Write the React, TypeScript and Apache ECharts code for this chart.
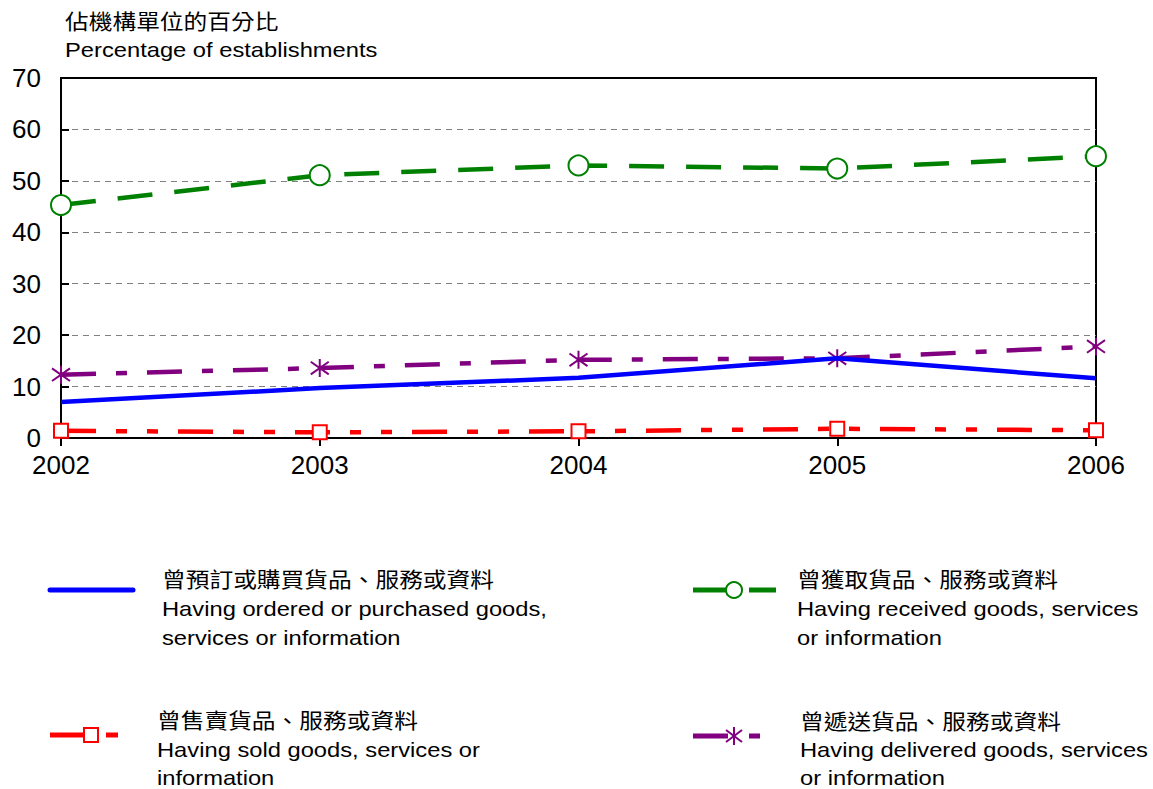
import React, { useEffect, useRef } from "react";
import * as echarts from "echarts";

const years = ["2002", "2003", "2004", "2005", "2006"];
const ordered = [7.0, 9.7, 11.7, 15.5, 11.6];
const received = [45.3, 51.1, 53.0, 52.4, 54.8];
const sold = [1.4, 1.1, 1.3, 1.8, 1.5];
const delivered = [12.3, 13.6, 15.2, 15.5, 17.8];
const yTicks = { min: 0, max: 70, interval: 10 };

const titleZh = "佔機構單位的百分比";
const titleEn = "Percentage of establishments";
const legendOrdered = ["曾預訂或購買貨品、服務或資料", "Having ordered or purchased goods,", "services or information"];
const legendReceived = ["曾獲取貨品、服務或資料", "Having received goods, services", "or information"];
const legendSold = ["曾售賣貨品、服務或資料", "Having sold goods, services or", "information"];
const legendDelivered = ["曾遞送貨品、服務或資料", "Having delivered goods, services", "or information"];

const FONT = '"Liberation Sans", Arial, "Noto Sans CJK TC", sans-serif';
const BLUE = "#0000FF";
const GREEN = "#008000";
const RED = "#FF0000";
const PURPLE = "#800080";
const STAR = "path://M10,0L10,20M1,3L19,17M1,17L19,3";

function textLines(lines: string[], x: number, y0: number, step: number) {
  return lines.map((t, i) => ({
    type: "text",
    x,
    y: y0 + i * step,
    scaleX: 1.13,
    style: { text: t, font: `21px ${FONT}`, fill: "#000", textVerticalAlign: "middle" },
  }));
}

export default function App() {
  const ref = useRef<HTMLDivElement>(null);
  useEffect(() => {
    const chart = echarts.init(ref.current!, null, { renderer: "svg" });
    const lineSeries = (name: string, data: number[], color: string, dash: any, symbol: string, size: number, z: number) => ({
      name,
      type: "line",
      data,
      symbol,
      symbolSize: size,
      showSymbol: symbol !== "none",
      z,
      lineStyle: { color, width: 4.5, type: dash, cap: "butt" },
      itemStyle: { color: symbol === STAR ? color : "#fff", borderColor: color, borderWidth: 2 },
    });
    chart.setOption({
      animation: false,
      grid: {
        left: 61,
        right: 57,
        top: 78,
        bottom: 351,
        show: true,
        borderColor: "#000",
        borderWidth: 2,
        backgroundColor: "transparent",
      },
      xAxis: {
        type: "category",
        data: years,
        boundaryGap: false,
        axisLine: { lineStyle: { color: "#000", width: 2 } },
        axisTick: { show: true, length: 8, alignWithLabel: true, lineStyle: { color: "#000", width: 2 } },
        axisLabel: { fontSize: 26, color: "#000", fontFamily: FONT, margin: 14 },
        splitLine: { show: false },
      },
      yAxis: {
        type: "value",
        min: yTicks.min,
        max: yTicks.max,
        interval: yTicks.interval,
        axisLine: { show: true, lineStyle: { color: "#000", width: 2 } },
        axisTick: { show: true, inside: true, length: 8, lineStyle: { color: "#000", width: 2 } },
        axisLabel: { fontSize: 26, color: "#000", fontFamily: FONT, margin: 20 },
        splitLine: {
          show: true,
          showMinLine: false,
          showMaxLine: false,
          lineStyle: { color: "#808080", width: 1, type: [6, 5] },
        },
      },
      series: [
        lineSeries(legendSold[0], sold, RED, [35, 20, 11, 20, 11, 20], "rect", 14, 2),
        lineSeries(legendReceived[0], received, GREEN, [35, 22], "circle", 20, 3),
        lineSeries(legendDelivered[0], delivered, PURPLE, [35, 20, 11, 20], STAR, 18, 4),
        lineSeries(legendOrdered[0], ordered, BLUE, "solid", "none", 0, 5),
      ],
      graphic: [
        ...textLines([titleZh, titleEn], 65, 22, 28),
        // legend: ordered
        { type: "line", shape: { x1: 50, y1: 590, x2: 133, y2: 590 }, style: { stroke: BLUE, lineWidth: 5, lineCap: "round" } },
        ...textLines(legendOrdered, 162, 580, 29),
        // legend: received
        { type: "line", shape: { x1: 693, y1: 590, x2: 726, y2: 590 }, style: { stroke: GREEN, lineWidth: 5 } },
        { type: "circle", shape: { cx: 734, cy: 590, r: 8 }, style: { fill: "#fff", stroke: GREEN, lineWidth: 2 } },
        { type: "line", shape: { x1: 749, y1: 590, x2: 776, y2: 590 }, style: { stroke: GREEN, lineWidth: 5 } },
        ...textLines(legendReceived, 797, 580, 29),
        // legend: sold
        { type: "line", shape: { x1: 50, y1: 735, x2: 84, y2: 735 }, style: { stroke: RED, lineWidth: 5 } },
        { type: "rect", shape: { x: 84, y: 728, width: 14, height: 14 }, style: { fill: "#fff", stroke: RED, lineWidth: 2 } },
        { type: "line", shape: { x1: 106, y1: 735, x2: 118, y2: 735 }, style: { stroke: RED, lineWidth: 5 } },
        ...textLines(legendSold, 157, 721, 28.5),
        // legend: delivered
        { type: "line", shape: { x1: 693, y1: 736, x2: 728, y2: 736 }, style: { stroke: PURPLE, lineWidth: 5 } },
        { type: "line", shape: { x1: 734, y1: 727, x2: 734, y2: 745 }, style: { stroke: PURPLE, lineWidth: 2 } },
        { type: "line", shape: { x1: 726, y1: 730, x2: 742, y2: 742 }, style: { stroke: PURPLE, lineWidth: 2 } },
        { type: "line", shape: { x1: 726, y1: 742, x2: 742, y2: 730 }, style: { stroke: PURPLE, lineWidth: 2 } },
        { type: "line", shape: { x1: 749, y1: 736, x2: 760, y2: 736 }, style: { stroke: PURPLE, lineWidth: 5 } },
        ...textLines(legendDelivered, 800, 722, 28),
      ],
    });
    return () => chart.dispose();
  }, []);
  return (
    <div
      ref={ref}
      style={{ position: "fixed", left: 0, top: 0, width: 1153, height: 789, background: "#fff" }}
    />
  );
}
